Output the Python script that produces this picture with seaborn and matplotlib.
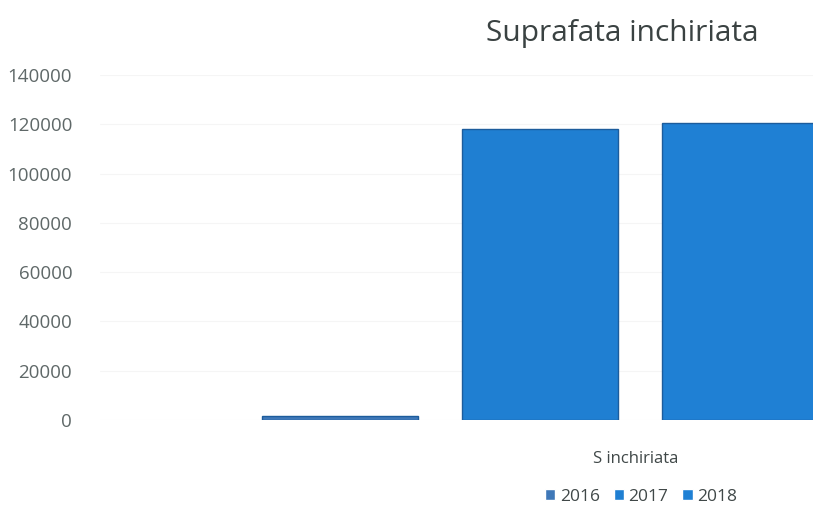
import matplotlib.pyplot as plt
import seaborn as sns
import pandas as pd
from matplotlib.patches import Patch

category = ["S inchiriata"] * 3
years = ["2016", "2017", "2018"]
values = [1500, 118000, 120500]
colors = ["#3f78b8", "#1f7fd2", "#1f80d4"]

df = pd.DataFrame({"Categorie": category, "An": years, "Suprafata": values})

sns.set_style("white")
plt.rcParams["font.family"] = ["Open Sans", "DejaVu Sans"]

fig = plt.figure(figsize=(8.13, 5.09), dpi=100)
ax = fig.add_axes([100 / 813, 89 / 509, 713 / 813, 345 / 509])

sns.barplot(data=df, x="Categorie", y="Suprafata", hue="An", hue_order=years,
            palette=colors, saturation=1, gap=0.22, width=0.8, ax=ax, legend=False,
            edgecolor="#1c5c9c", linewidth=1)

ax.set_xlim(-0.587, 0.364)
ax.set_ylim(0, 140000)
ax.set_yticks(range(0, 140001, 20000))
ax.set_yticklabels([str(v) for v in range(0, 140001, 20000)], fontsize=13.5, color="#5f6868")
ax.tick_params(axis="y", length=0, pad=20)
ax.set_xticks([0.127])
ax.set_xticklabels(["S inchiriata"], fontsize=12, color="#404848")
ax.tick_params(axis="x", length=0, pad=22)
ax.set_xlabel("")
ax.set_ylabel("")
ax.grid(axis="y", color="#f5f5f5", linewidth=0.8)
ax.set_axisbelow(True)
sns.despine(ax=ax, left=True, bottom=True, top=True, right=True)

fig.text(622 / 813, 1 - 33 / 509, "Suprafata inchiriata", fontsize=21.5,
         color="#3a4242", ha="center", va="center")

handles = [Patch(facecolor=c, label=y) for c, y in zip(colors, years)]
fig.legend(handles=handles, loc="center", bbox_to_anchor=(641 / 813, 1 - 497 / 509),
           ncol=3, frameon=False, fontsize=12.5, handlelength=0.6, handleheight=0.6,
           handletextpad=0.25, columnspacing=0.8, labelcolor="#404848")

fig.savefig("out.png", dpi=100)
